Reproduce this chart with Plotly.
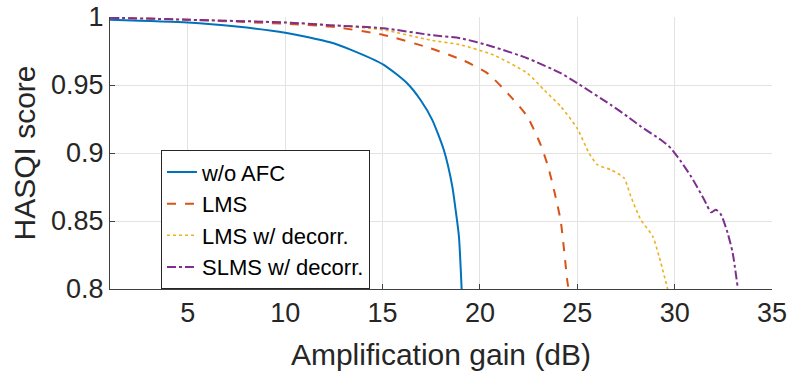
import plotly.graph_objects as go

# ---- data ----
x_noafc = [1, 5, 7.5, 10, 12.3, 13.35, 15.06, 16.26, 16.95, 17.55, 18.15, 18.58, 18.75, 18.92, 19.06]
y_noafc = [0.998, 0.996, 0.993, 0.9885, 0.9814, 0.976, 0.9648, 0.9513, 0.939, 0.9244, 0.902, 0.8755, 0.8583, 0.8388, 0.80]

x_lms = [1, 5, 10, 12.3, 15.05, 17.46, 19.16, 20.38, 21.58, 22.43, 23.12, 23.5, 23.85, 24.15, 24.49, 24.55]
y_lms = [0.9995, 0.998, 0.995, 0.993, 0.9868, 0.977, 0.968, 0.9587, 0.9415, 0.9268, 0.906, 0.89, 0.87, 0.8498, 0.8057, 0.80]

x_lmsd = [1, 5, 10, 12.3, 15.05, 17.46, 19.0, 20.7, 22.43, 23.29, 24.15, 25.0, 25.6, 26.03, 26.72, 27.4, 27.75, 28.26, 28.87, 29.2, 29.64]
y_lmsd = [0.9995, 0.998, 0.996, 0.994, 0.9905, 0.983, 0.9795, 0.972, 0.9587, 0.9464, 0.9342, 0.918, 0.90, 0.8914, 0.8877, 0.8816, 0.868, 0.851, 0.8388, 0.824, 0.80]

x_slms = [1, 5, 10, 12.3, 15.05, 17.46, 19.0, 20.7, 22.43, 24.15, 25.0, 26.72, 27.58, 28.26, 29.29, 29.8, 30.32, 30.84, 31.52, 31.87, 32.12, 32.38, 32.72, 32.98, 33.24]
y_slms = [0.9995, 0.998, 0.996, 0.994, 0.9917, 0.9868, 0.9844, 0.978, 0.9697, 0.9587, 0.9513, 0.9354, 0.9268, 0.9195, 0.9097, 0.9036, 0.8938, 0.8828, 0.8657, 0.8564, 0.8583, 0.8547, 0.8412, 0.8266, 0.801]

names = ["w/o AFC", "LMS", "LMS w/ decorr.", "SLMS w/ decorr."]
x_ticks = [5, 10, 15, 20, 25, 30, 35]
y_ticks = [0.8, 0.85, 0.9, 0.95, 1.0]
y_ticktext = ["0.8", "0.85", "0.9", "0.95", "1"]

colors = ["#0072BD", "#D95319", "#EDB120", "#7E2F8E"]
dashes = ["solid", "dash", "dot", "dashdot"]
widths = [2, 2, 1.6, 2]

FONT = "Liberation Sans, Arial, sans-serif"

fig = go.Figure()
for xs, ys, nm, c, d, w in zip([x_noafc, x_lms, x_lmsd, x_slms],
                               [y_noafc, y_lms, y_lmsd, y_slms],
                               names, colors, dashes, widths):
    fig.add_trace(go.Scatter(x=xs, y=ys, name=nm, mode="lines",
                             line=dict(color=c, dash=d, width=w, shape="spline", smoothing=0.6)))

axis_common = dict(
    showgrid=True, gridcolor="#e3e3e3", gridwidth=1,
    showline=True, linecolor="#404040", linewidth=1,
    ticks="inside", ticklen=5, tickcolor="#404040",
    zeroline=False, mirror=False, automargin=False,
    tickfont=dict(family=FONT, size=27, color="#262626"),
)

fig.update_layout(
    width=788, height=376,
    margin=dict(l=110, r=16, t=17, b=87, autoexpand=False),
    paper_bgcolor="white", plot_bgcolor="white",
    font=dict(family=FONT, color="#262626"),
    xaxis=dict(range=[1, 35], tickvals=x_ticks,
               title=dict(text="Amplification gain (dB)", font=dict(family=FONT, size=30, color="#262626"), standoff=16),
               **axis_common),
    yaxis=dict(range=[0.8, 1.0], tickvals=y_ticks, ticktext=y_ticktext,
               title=dict(text="HASQI score", font=dict(family=FONT, size=30, color="#262626"), standoff=6),
               **axis_common),
    legend=dict(x=0.077, y=0.51, xanchor="left", yanchor="top",
                bgcolor="white", bordercolor="#262626", borderwidth=1,
                font=dict(family=FONT, size=22, color="black"),
                tracegroupgap=0, itemwidth=30),
    showlegend=True,
)

fig.write_html("out.html")
